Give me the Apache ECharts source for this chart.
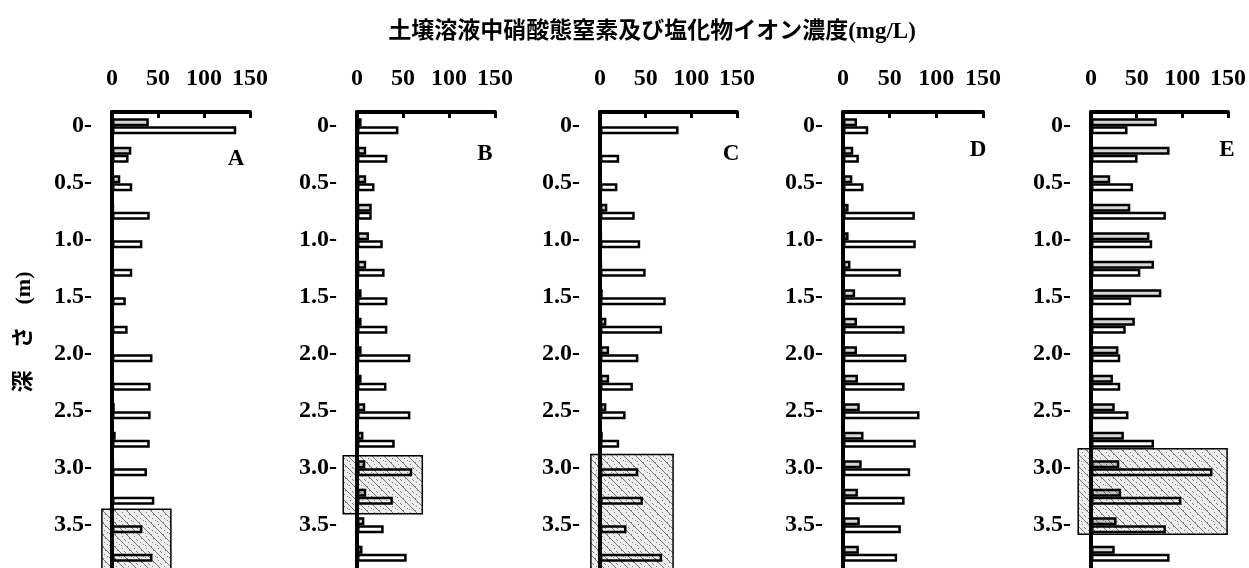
<!DOCTYPE html>
<html><head><meta charset="utf-8">
<script src="https://cdn.jsdelivr.net/npm/echarts@6/dist/echarts.min.js"></script>
<style>html,body{margin:0;padding:0;background:#fff}#c{width:1249px;height:568px}</style>
</head><body><div id="c"></div>
<script>
// ---- data ----
const depths = ['0','0.25','0.5','0.75','1.0','1.25','1.5','1.75','2.0','2.25','2.5','2.75','3.0','3.25','3.5','3.75'];
const panelNames = ['A','B','C','D','E'];
const xTicks = [0, 50, 100, 150];
const titleText = '土壌溶液中硝酸態窒素及び塩化物イオン濃度(mg/L)';
const yName = '深　さ　(m)';

const nitrateA  = [40, 21, 9, 2, 0, 0, 0, 0, 0, 0, 3, 4, 2, 0, 0, 0];
const chlorideA = [135, 18, 22, 41, 33, 22, 15, 17, 44, 42, 42, 41, 38, 46, 33, 44];
const nitrateB  = [5, 10, 10, 16, 13, 10, 5, 5, 5, 5, 9, 7, 9, 10, 8, 6];
const chlorideB = [45, 33, 19, 16, 28, 30, 33, 33, 58, 32, 58, 41, 60, 39, 29, 54];
const nitrateC  = [1, 0, 0, 8, 2, 2, 3, 7, 10, 10, 7, 3, 2, 1, 1, 1];
const chlorideC = [86, 21, 19, 38, 44, 50, 72, 68, 42, 36, 28, 21, 42, 47, 29, 68];
const nitrateD  = [15, 11, 10, 6, 6, 8, 13, 15, 15, 16, 18, 22, 20, 16, 18, 17];
const chlorideD = [27, 17, 22, 77, 78, 62, 67, 66, 68, 66, 82, 78, 72, 66, 62, 58];
const nitrateE  = [72, 86, 21, 43, 64, 69, 77, 48, 30, 24, 26, 36, 31, 33, 28, 26];
const chlorideE = [40, 51, 46, 82, 67, 54, 44, 38, 32, 32, 41, 69, 133, 99, 82, 86];

// shaded zones: [xFrom, xTo, depthFrom, depthTo]
const zoneA = [-11, 64, 3.36, 3.95];
const zoneB = [-15, 71, 2.89, 3.40];
const zoneC = [-10, 80, 2.88, 3.95];
const zoneD = null;
const zoneE = [-14, 149, 2.83, 3.58];

const nitrate = [nitrateA, nitrateB, nitrateC, nitrateD, nitrateE];
const chloride = [chlorideA, chlorideB, chlorideC, chlorideD, chlorideE];
const zones = [zoneA, zoneB, zoneC, zoneD, zoneE];

// ---- layout ----
const gridLeft = [112, 357, 600, 843, 1091];
const gridWidth = [138, 138, 137, 140, 138];
const letterPos = [[236, 159], [485, 154], [731, 154], [978, 150], [1227, 150]];

const serif = "'Liberation Serif','DejaVu Serif',serif";

// hatch pattern
const pc = document.createElement('canvas');
pc.width = 12; pc.height = 12;
const g = pc.getContext('2d');
g.fillStyle = 'rgba(0,0,0,0.07)'; g.fillRect(0, 0, 12, 12);
g.strokeStyle = 'rgba(0,0,0,0.5)'; g.lineWidth = 1;
for (const o of [-12, 0, 12]) { g.beginPath(); g.moveTo(o, 0); g.lineTo(o + 12, 12); g.stroke(); }
g.fillStyle = 'rgba(0,0,0,0.45)';
[[2,8],[8,2],[9,10],[5,0],[1,5],[7,6],[11,4],[4,11]].forEach(([x,y]) => g.fillRect(x, y, 1, 1));
const hatch = { image: pc, repeat: 'repeat' };

const grid = [], xAxis = [], yAxis = [], series = [];
for (let i = 0; i < 5; i++) {
  grid.push({ left: gridLeft[i], width: gridWidth[i], top: 112, height: 456 });
  xAxis.push({
    type: 'value', gridIndex: i, position: 'top', min: xTicks[0], max: xTicks[xTicks.length - 1], interval: 50,
    axisLine: { show: true, onZero: false, lineStyle: { color: '#000', width: 4 } },
    axisTick: { show: true, inside: true, length: 6, lineStyle: { color: '#000', width: 3 } },
    splitLine: { show: false },
    axisLabel: { margin: 21, color: '#000', fontFamily: serif, fontWeight: 'bold', fontSize: 24 }
  });
  yAxis.push({
    type: 'category', gridIndex: i, inverse: true, data: depths,
    axisLine: { show: true, onZero: false, lineStyle: { color: '#000', width: 4 } },
    axisTick: { show: false },
    axisLabel: { interval: 1, margin: 20, color: '#000', fontFamily: serif, fontWeight: 'bold', fontSize: 24,
      formatter: v => (parseFloat(v) === 0 ? '0' : parseFloat(v).toFixed(1)) + '-' }
  });
  yAxis.push({
    type: 'value', gridIndex: i, inverse: true, min: -0.125, max: 3.875, show: false
  });
  series.push({
    type: 'bar', xAxisIndex: i, yAxisIndex: 2 * i, data: nitrate[i], barWidth: 8, barGap: '0%',
    itemStyle: { color: '#d6d6d6', borderColor: '#000', borderWidth: 2.5 }, silent: true, z: 3
  });
  series.push({
    type: 'bar', xAxisIndex: i, yAxisIndex: 2 * i, data: chloride[i], barWidth: 8, barGap: '0%',
    itemStyle: { color: '#fff', borderColor: '#000', borderWidth: 2.5 }, silent: true, z: 3
  });
  if (zones[i]) {
    series.push({
      type: 'custom', xAxisIndex: i, yAxisIndex: 2 * i + 1, clip: false, z: 5, silent: true,
      data: [zones[i]],
      encode: { x: [0, 1], y: [2, 3] },
      renderItem: (params, api) => {
        const p1 = api.coord([api.value(0), api.value(2)]);
        const p2 = api.coord([api.value(1), api.value(3)]);
        return { type: 'rect', shape: { x: p1[0], y: p1[1], width: p2[0] - p1[0], height: p2[1] - p1[1] },
          style: { fill: hatch, stroke: '#000', lineWidth: 1.5 } };
      }
    });
  }
}

const graphic = [
  { type: 'text', x: 652, y: 32, style: { text: titleText, fill: '#000', align: 'center', verticalAlign: 'middle',
      font: "bold 23px 'Liberation Serif','Noto Sans CJK JP',serif" } },
  { type: 'text', x: 24, y: 332, rotation: Math.PI / 2, style: { text: yName, fill: '#000', align: 'center', verticalAlign: 'middle',
      font: "bold 22px 'Liberation Serif','Noto Sans CJK JP',serif" } }
];
panelNames.forEach((n, i) => graphic.push({ type: 'text', x: letterPos[i][0], y: letterPos[i][1],
  style: { text: n, fill: '#000', align: 'center', verticalAlign: 'middle', font: 'bold 23px ' + serif } }));

const chart = echarts.init(document.getElementById('c'));
chart.setOption({ animation: false, backgroundColor: '#fff', grid, xAxis, yAxis, series, graphic });
</script></body></html>
